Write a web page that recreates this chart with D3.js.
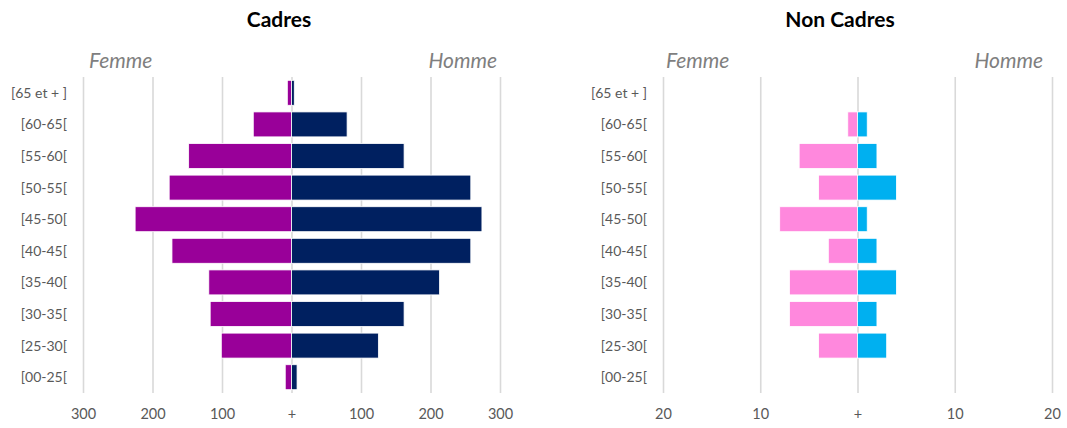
<!DOCTYPE html>
<html>
<head>
<meta charset="utf-8">
<script src="https://cdn.jsdelivr.net/npm/d3@7/dist/d3.min.js"></script>
<style>
  html, body { margin: 0; padding: 0; background: #fff; }
  svg { display: block; font-family: Lato, "Open Sans", sans-serif; }
</style>
</head>
<body>
<svg id="chart" width="1067" height="428"></svg>
<script>
// ---- Data ----
const categories = ["[65 et + ]", "[60-65[", "[55-60[", "[50-55[", "[45-50[", "[40-45[", "[35-40[", "[30-35[", "[25-30[", "[00-25["];
const cadresFemme = [6, 55, 148, 176, 225, 172, 119, 117, 101, 9];
const cadresHomme = [4, 80, 162, 258, 274, 258, 213, 162, 125, 8];
const nonCadresFemme = [0, 1, 6, 4, 8, 3, 7, 7, 4, 0];
const nonCadresHomme = [0, 1, 2, 4, 1, 2, 4, 2, 3, 0];
const cadresTicks = [-300, -200, -100, 0, 100, 200, 300];
const cadresTickLabels = ["300", "200", "100", "+", "100", "200", "300"];
const nonCadresTicks = [-20, -10, 0, 10, 20];
const nonCadresTickLabels = ["20", "10", "+", "10", "20"];
const titles = ["Cadres", "Non Cadres"];
const sexLabels = ["Femme", "Homme"];

const svg = d3.select("#chart");

function drawPyramid(cfg) {
  const g = svg.append("g");
  const x = d3.scaleLinear().domain(cfg.domain).range(cfg.xRange);
  const y = d3.scaleBand().domain(categories).range([77, 393])
    .paddingInner(0.21).paddingOuter(0.105);

  // gridlines
  g.append("g")
    .attr("transform", "translate(0,393)")
    .call(d3.axisBottom(x).tickValues(cfg.ticks).tickSize(-316).tickFormat(""))
    .call(s => s.select(".domain").remove())
    .call(s => s.selectAll(".tick line").attr("stroke", "#d9d9d9").attr("stroke-width", 1.6));

  // tick labels
  g.append("g")
    .attr("transform", "translate(0,406)")
    .call(d3.axisBottom(x).tickValues(cfg.ticks).tickSize(0)
      .tickFormat((d, i) => cfg.tickLabels[i]))
    .call(s => s.select(".domain").remove())
    .call(s => s.selectAll(".tick text")
      .attr("fill", "#595959").attr("font-size", 14.5).attr("font-family", "Lato, 'Open Sans', sans-serif"));

  // bars
  g.selectAll(".f").data(cfg.femme).join("rect")
    .attr("x", d => x(-d))
    .attr("width", d => x(0) - x(-d))
    .attr("y", (d, i) => y(categories[i]))
    .attr("height", y.bandwidth())
    .attr("fill", cfg.colF)
    .attr("stroke", d => d > 0 ? "#fff" : "none")
    .attr("stroke-width", 0.8);
  g.selectAll(".h").data(cfg.homme).join("rect")
    .attr("x", x(0))
    .attr("width", d => x(d) - x(0))
    .attr("y", (d, i) => y(categories[i]))
    .attr("height", y.bandwidth())
    .attr("fill", cfg.colH)
    .attr("stroke", d => d > 0 ? "#fff" : "none")
    .attr("stroke-width", 0.8);

  // category labels
  g.selectAll(".cat").data(categories).join("text")
    .attr("x", cfg.labelX)
    .attr("y", d => y(d) + y.bandwidth() / 2)
    .attr("dy", "0.35em")
    .attr("text-anchor", "end")
    .attr("fill", "#595959")
    .attr("font-size", 14)
    .text(d => d);

  // title
  g.append("text")
    .attr("x", cfg.titleX).attr("y", 27)
    .attr("text-anchor", "middle")
    .attr("font-size", 21).attr("font-weight", "bold").attr("fill", "#000")
    .text(cfg.title);

  // sex labels
  g.append("text")
    .attr("x", cfg.femmeX).attr("y", 68)
    .attr("font-size", 21).attr("font-style", "italic").attr("fill", "#7f7f7f")
    .text(sexLabels[0]);
  g.append("text")
    .attr("x", cfg.hommeX).attr("y", 68)
    .attr("text-anchor", "end")
    .attr("font-size", 21).attr("font-style", "italic").attr("fill", "#7f7f7f")
    .text(sexLabels[1]);
}

drawPyramid({
  domain: [-300, 300], xRange: [83, 500],
  ticks: cadresTicks, tickLabels: cadresTickLabels,
  femme: cadresFemme, homme: cadresHomme,
  colF: "#990099", colH: "#002060",
  labelX: 67, titleX: 279, title: titles[0],
  femmeX: 89, hommeX: 497
});
drawPyramid({
  domain: [-20, 20], xRange: [663, 1052],
  ticks: nonCadresTicks, tickLabels: nonCadresTickLabels,
  femme: nonCadresFemme, homme: nonCadresHomme,
  colF: "#ff88dd", colH: "#00b0f0",
  labelX: 647, titleX: 840, title: titles[1],
  femmeX: 666, hommeX: 1043
});
</script>
</body>
</html>
